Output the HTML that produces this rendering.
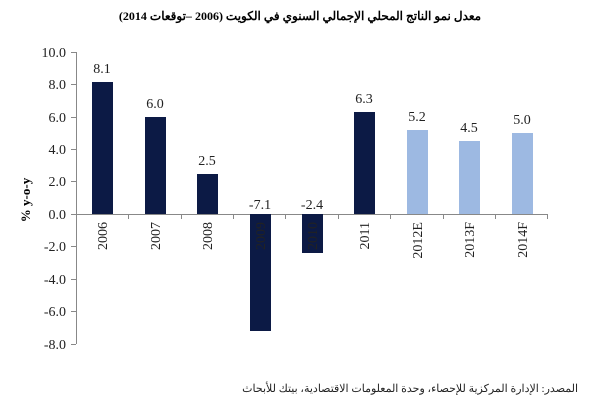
<!DOCTYPE html>
<html><head><meta charset="utf-8"><style>body{margin:0;background:#fff}svg{display:block}</style></head><body>
<svg width="600" height="419" xmlns="http://www.w3.org/2000/svg" font-family="Liberation Serif, serif">
<text x="300" y="20" text-anchor="middle" font-size="12" font-weight="bold" font-family="Liberation Serif, 'Noto Sans CJK SC', sans-serif">معدل نمو الناتج المحلي الإجمالي السنوي في الكويت (2006 –توقعات 2014)</text>
<g stroke="#888" stroke-width="1" fill="none">
<line x1="76.5" y1="52" x2="76.5" y2="344"/>
<line x1="76" y1="214.5" x2="548" y2="214.5"/>
<path d="M71 52.5H76M71 84.5H76M71 117.5H76M71 149.5H76M71 181.5H76M71 214.5H76M71 246.5H76M71 279.5H76M71 311.5H76M71 344.5H76"/>
<path d="M128.5 214V219M181.5 214V219M233.5 214V219M285.5 214V219M338.5 214V219M390.5 214V219M443.5 214V219M495.5 214V219M547.5 214V219"/>
</g>
<g font-size="14" fill="#222" text-anchor="end">
<text x="66" y="57">10.0</text><text x="66" y="89">8.0</text><text x="66" y="122">6.0</text><text x="66" y="154">4.0</text><text x="66" y="186">2.0</text><text x="66" y="219">0.0</text><text x="66" y="251">-2.0</text><text x="66" y="284">-4.0</text><text x="66" y="316">-6.0</text><text x="66" y="349">-8.0</text>
</g>
<text transform="translate(30,200) rotate(-90)" text-anchor="middle" font-size="13" font-weight="bold">% y-o-y</text>
<g fill="#0c1a45">
<rect x="92" y="82" width="21" height="132"/>
<rect x="145" y="117" width="21" height="97"/>
<rect x="197" y="174" width="21" height="40"/>
<rect x="250" y="214" width="21" height="117"/>
<rect x="302" y="214" width="21" height="39"/>
<rect x="354" y="112" width="21" height="102"/>
</g>
<g fill="#9db9e2">
<rect x="407" y="130" width="21" height="84"/>
<rect x="459" y="141" width="21" height="73"/>
<rect x="512" y="133" width="21" height="81"/>
</g>
<g font-size="14" fill="#222" text-anchor="middle">
<text x="102" y="73">8.1</text><text x="155" y="108">6.0</text><text x="207" y="165">2.5</text><text x="260" y="209">-7.1</text><text x="312" y="209">-2.4</text><text x="364" y="103">6.3</text><text x="417" y="121">5.2</text><text x="469" y="132">4.5</text><text x="522" y="124">5.0</text>
</g>
<g font-size="14" fill="#222" text-anchor="end">
<text transform="translate(107,222) rotate(-90)">2006</text>
<text transform="translate(160,222) rotate(-90)">2007</text>
<text transform="translate(212,222) rotate(-90)">2008</text>
<text transform="translate(265,222) rotate(-90)">2009</text>
<text transform="translate(317,222) rotate(-90)">2010</text>
<text transform="translate(369,222) rotate(-90)">2011</text>
<text transform="translate(422,222) rotate(-90)">2012E</text>
<text transform="translate(474,222) rotate(-90)">2013F</text>
<text transform="translate(527,222) rotate(-90)">2014F</text>
</g>
<text x="578" y="392" text-anchor="end" font-size="11" fill="#222" font-family="Liberation Serif, 'Noto Sans CJK SC', sans-serif">المصدر: الإدارة المركزية للإحصاء، وحدة المعلومات الاقتصادية، بيتك للأبحاث</text>
</svg>
</body></html>
